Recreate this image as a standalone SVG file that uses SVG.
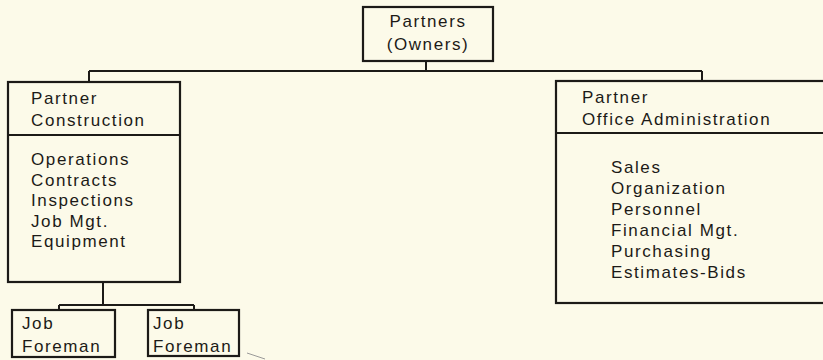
<svg xmlns="http://www.w3.org/2000/svg" width="823" height="360" viewBox="0 0 823 360">
<style>
.bg{fill:#fcfae9}
.box{fill:none;stroke:#1c1a17;stroke-width:2.2}
.ln{fill:none;stroke:#1c1a17;stroke-width:2}
text{font-family:"Liberation Sans",Arial,sans-serif;font-size:17px;letter-spacing:1.6px;fill:#1c1a17}
.c{text-anchor:middle}
</style>
<rect class="bg" x="0" y="0" width="823" height="360"/>
<g id="connectors">
<path class="ln" d="M426,61 V71 M89,71 H702 M89,71 V82 M702,71 V81"/>
<path class="ln" d="M103,282 V305 M59,305 H194 M59,305 V310 M194,305 V310"/>
<path d="M247,353 L265,359" stroke="#9a9a98" stroke-width="1" fill="none"/>
</g>
<g id="partners">
<rect class="box" x="363" y="7" width="130" height="54"/>
<text class="c" x="428" y="27">Partners</text>
<text class="c" x="428" y="50">(Owners)</text>
</g>
<g id="partner-construction">
<rect class="box" x="8" y="82" width="172" height="200"/>
<path class="ln" d="M8,135 H180"/>
<text x="31" y="104">Partner</text>
<text x="31" y="126">Construction</text>
<text x="31" y="165">Operations</text>
<text x="31" y="186">Contracts</text>
<text x="31" y="206">Inspections</text>
<text x="31" y="227">Job Mgt.</text>
<text x="31" y="247">Equipment</text>
</g>
<g id="partner-office">
<rect class="box" x="556" y="81" width="290" height="222"/>
<path class="ln" d="M556,133 H823"/>
<text x="582" y="103">Partner</text>
<text x="582" y="125">Office Administration</text>
<text x="611" y="173">Sales</text>
<text x="611" y="194">Organization</text>
<text x="611" y="215">Personnel</text>
<text x="611" y="236">Financial Mgt.</text>
<text x="611" y="257">Purchasing</text>
<text x="611" y="278">Estimates-Bids</text>
</g>
<g id="job-foreman-1">
<rect class="box" x="12" y="310" width="103" height="47"/>
<text x="22" y="329">Job</text>
<text x="22" y="352">Foreman</text>
</g>
<g id="job-foreman-2">
<rect class="box" x="148" y="310" width="91" height="46"/>
<text x="153" y="329">Job</text>
<text x="153" y="352">Foreman</text>
</g>
</svg>
